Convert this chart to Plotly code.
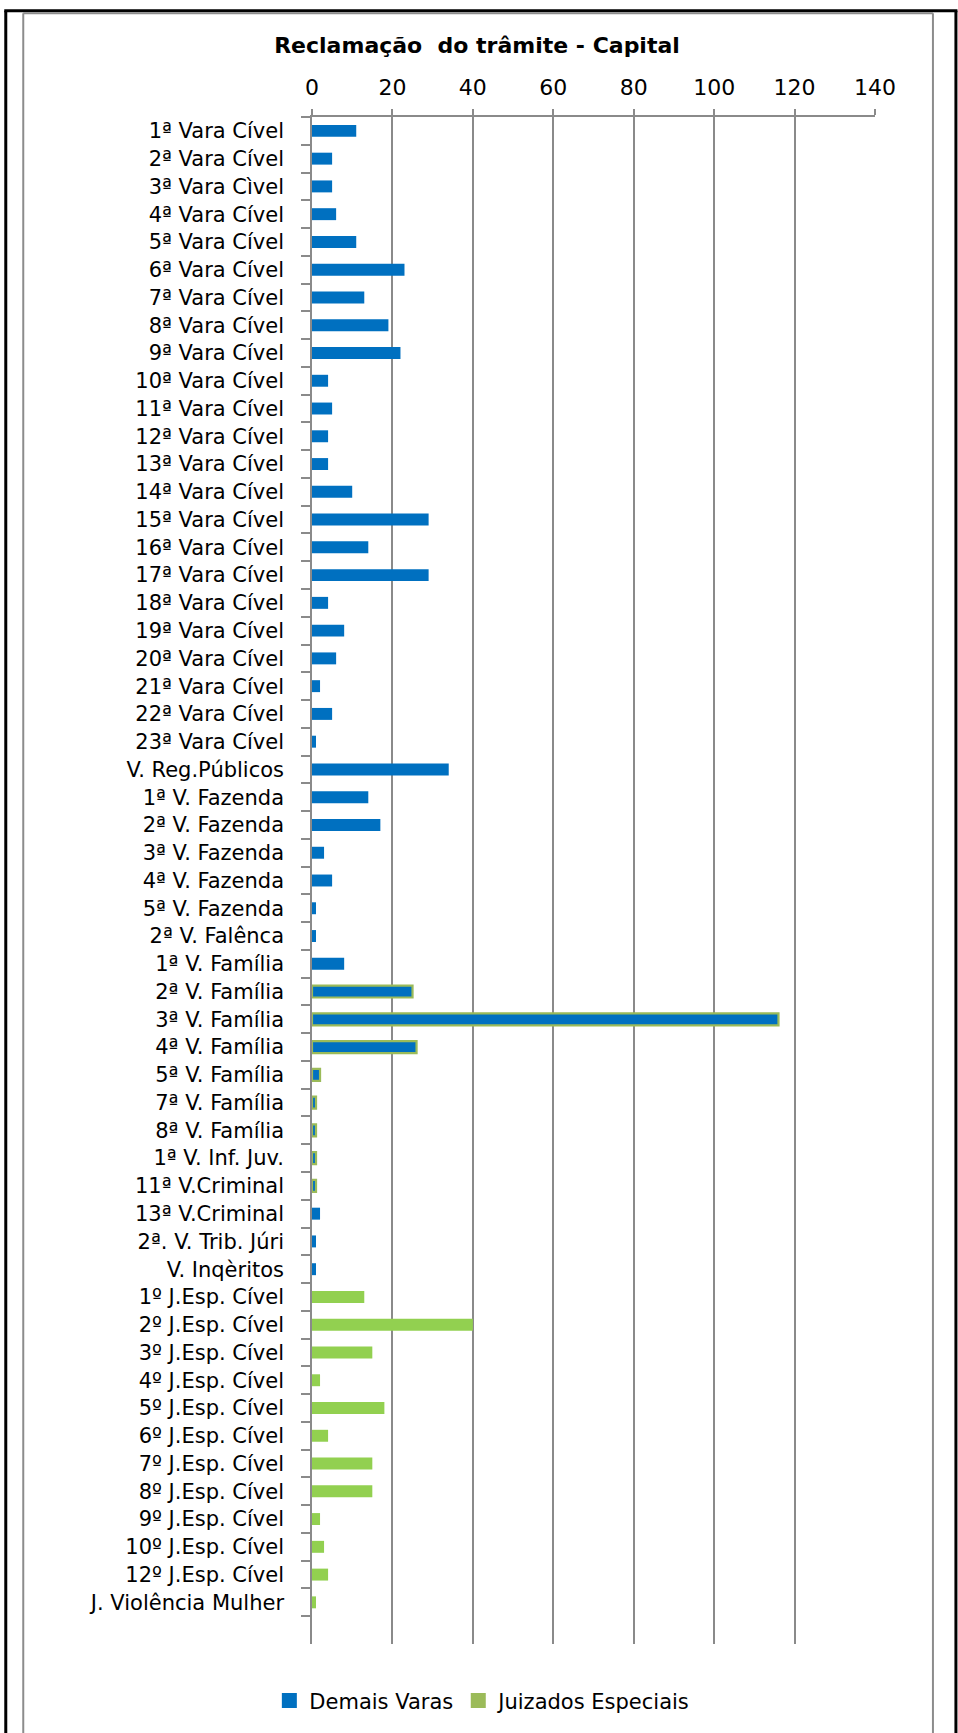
import plotly.graph_objects as go

categories = [
    "1ª Vara Cível", "2ª Vara Cível", "3ª Vara Cìvel", "4ª Vara Cível", "5ª Vara Cível",
    "6ª Vara Cível", "7ª Vara Cível", "8ª Vara Cível", "9ª Vara Cível", "10ª Vara Cível",
    "11ª Vara Cível", "12ª Vara Cível", "13ª Vara Cível", "14ª Vara Cível", "15ª Vara Cível",
    "16ª Vara Cível", "17ª Vara Cível", "18ª Vara Cível", "19ª Vara Cível", "20ª Vara Cível",
    "21ª Vara Cível", "22ª Vara Cível", "23ª Vara Cível", "V. Reg.Públicos", "1ª V. Fazenda",
    "2ª V. Fazenda", "3ª V. Fazenda", "4ª V. Fazenda", "5ª V. Fazenda", "2ª V. Falênca",
    "1ª V. Família", "2ª V. Família", "3ª V. Família", "4ª V. Família", "5ª V. Família",
    "7ª V. Família", "8ª V. Família", "1ª V. Inf. Juv.", "11ª V.Criminal", "13ª V.Criminal",
    "2ª. V. Trib. Júri", "V. Inqèritos",
    "1º J.Esp. Cível", "2º J.Esp. Cível", "3º J.Esp. Cível", "4º J.Esp. Cível", "5º J.Esp. Cível",
    "6º J.Esp. Cível", "7º J.Esp. Cível", "8º J.Esp. Cível", "9º J.Esp. Cível", "10º J.Esp. Cível",
    "12º J.Esp. Cível", "J. Violência Mulher", " ",
]

demais_varas = [
    11, 5, 5, 6, 11, 23, 13, 19, 22, 4,
    5, 4, 4, 10, 29, 14, 29, 4, 8, 6,
    2, 5, 1, 34, 14, 17, 3, 5, 1, 1,
    8, 25, 116, 26, 2, 1, 1, 1, 1, 2,
    1, 1,
    None, None, None, None, None, None, None, None, None, None, None, None, None,
]

juizados_especiais = [None] * 42 + [13, 40, 15, 2, 18, 4, 15, 15, 2, 3, 4, 1, None]

outlined = ["2ª V. Família", "3ª V. Família", "4ª V. Família", "5ª V. Família",
            "7ª V. Família", "8ª V. Família", "1ª V. Inf. Juv.", "11ª V.Criminal"]

BLUE = "#0070C0"
GREEN = "#92D050"
GREEN_LEG = "#9BBB59"
GRID = "#8a8a8a"
FONT = "DejaVu Sans"

fig = go.Figure()
fig.add_trace(go.Bar(
    y=categories, x=demais_varas, orientation="h", name="Demais Varas",
    width=0.43, showlegend=False,
    marker=dict(color=BLUE,
                line=dict(color=[GREEN_LEG if c in outlined else "rgba(0,0,0,0)" for c in categories],
                          width=[2.2 if c in outlined else 0 for c in categories])),
))
fig.add_trace(go.Bar(
    y=categories, x=juizados_especiais, orientation="h", name="Juizados Especiais",
    width=0.43, showlegend=False, marker=dict(color=GREEN, line=dict(width=0)),
))
# legend entries
fig.add_trace(go.Scatter(y=[None], x=[None], mode="markers", name="Demais Varas",
                         marker=dict(symbol="square", size=15, color=BLUE)))
fig.add_trace(go.Scatter(y=[None], x=[None], mode="markers", name="Juizados Especiais",
                         marker=dict(symbol="square", size=15, color=GREEN_LEG)))

W_FIG, H_FIG = 958, 1733
L, R, T, B = 312, 875.5, 117, 1648
PW, PH = R - L, B - T
def px(xp):
    return (xp - L) / PW
def py(yp):
    return (B - yp) / PH

shapes = []
def seg(x0, y0, x1, y1, color, width):
    shapes.append(dict(type="line", xref="paper", yref="paper",
                       x0=px(x0), y0=py(y0), x1=px(x1), y1=py(y1),
                       line=dict(color=color, width=width), layer="above"))
# outer black frame
seg(5.5, 10.5, 5.5, 1745, "#000000", 3)
seg(4, 10.5, 958, 10.5, "#000000", 3)
seg(956.5, 10.5, 956.5, 1745, "#000000", 3)
# inner grey frame
seg(23, 13, 23, 1745, "#8c8c8c", 2)
seg(23, 13, 933.5, 13, "#8c8c8c", 2)
seg(933.5, 13, 933.5, 1745, "#8c8c8c", 2)

fig.update_layout(
    width=W_FIG, height=H_FIG,
    margin=dict(l=L, r=W_FIG - R, t=T, b=H_FIG - B, pad=0),
    paper_bgcolor="white", plot_bgcolor="white",
    barmode="overlay",
    font=dict(family=FONT, color="#000000", size=21),
    title=dict(text="<b>Reclamação  do trâmite - Capital</b>", x=477 / W_FIG, xanchor="center",
               y=1 - 45 / H_FIG, yanchor="middle", font=dict(family=FONT, size=22, color="#000000")),
    xaxis=dict(side="top", range=[0, 140], dtick=20, tick0=0,
               showgrid=True, gridcolor=GRID, gridwidth=1.5,
               showline=True, linecolor=GRID, linewidth=1.5,
               ticks="outside", ticklen=6, tickcolor=GRID, tickwidth=1.5,
               tickfont=dict(family=FONT, size=22, color="#000000"),
               zeroline=False, ticklabelstandoff=5),
    yaxis=dict(type="category", categoryorder="array", categoryarray=categories,
               range=[len(categories) - 0.5, -0.5],
               tickson="boundaries", ticks="outside", ticklen=9, tickcolor=GRID, tickwidth=1.5,
               showline=True, linecolor=GRID, linewidth=1.5, showgrid=False,
               tickfont=dict(family=FONT, size=21, color="#000000"),
               ticklabelstandoff=22),
    legend=dict(orientation="h", x=px(483), xanchor="center", y=py(1705), yanchor="middle",
                font=dict(family=FONT, size=21, color="#000000"),
                traceorder="normal", bgcolor="rgba(0,0,0,0)", itemwidth=30),
    shapes=shapes,
)

fig.write_html("out.html")
